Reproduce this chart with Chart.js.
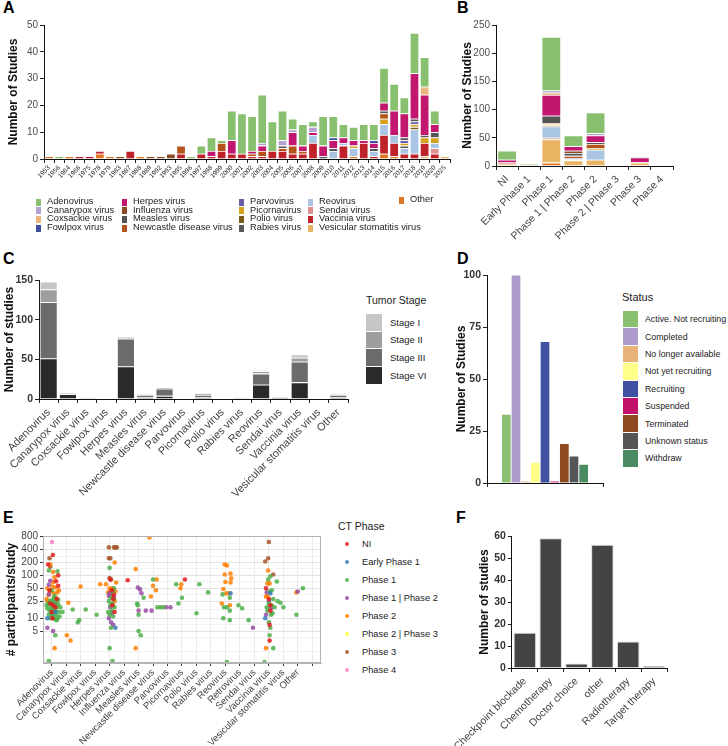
<!DOCTYPE html>
<html>
<head>
<meta charset="utf-8">
<script src="https://cdn.jsdelivr.net/npm/chart.js@4.4.1/dist/chart.umd.min.js"></script>
<style>
  body { margin: 0; background: #fff; width: 728px; height: 746px; overflow: hidden; position: relative;
         font-family: 'Liberation Sans', Arial, Helvetica, sans-serif; }
  .panel { position: absolute; }
  .letter { position: absolute; font-weight: bold; font-size: 16px; color: #000; line-height: 16px; }
  .lg { position: absolute; white-space: nowrap; color: #222; line-height: 1; }
  .key { position: absolute; }
</style>
</head>
<body>
<div class="letter" style="left:3px;top:0px">A</div>
<div class="letter" style="left:457px;top:0px">B</div>
<div class="letter" style="left:3px;top:251px">C</div>
<div class="letter" style="left:457px;top:251px">D</div>
<div class="letter" style="left:3px;top:510px">E</div>
<div class="letter" style="left:456px;top:510px">F</div>

<div class="panel" style="left:0;top:0;width:470px;height:200px"><canvas id="chartA"></canvas></div>
<div class="panel" style="left:458px;top:0;width:270px;height:240px"><canvas id="chartB"></canvas></div>
<div class="panel" style="left:0;top:255px;width:360px;height:245px"><canvas id="chartC"></canvas></div>
<div class="panel" style="left:452px;top:255px;width:158px;height:245px"><canvas id="chartD"></canvas></div>
<div class="panel" style="left:0;top:505px;width:335px;height:241px"><canvas id="chartE"></canvas></div>
<div class="panel" style="left:450px;top:505px;width:278px;height:241px"><canvas id="chartF"></canvas></div>

<div id="legendA"></div>
<div id="legendC"></div>
<div id="legendD"></div>
<div id="legendE"></div>

<script>
// ---------- data ----------
const virusNames = ['Adenovirus', 'Canarypox virus', 'Coxsackie virus', 'Fowlpox virus', 'Herpes virus',
    'Influenza virus', 'Measles virus', 'Newcastle disease virus', 'Parvovirus', 'Picornavirus', 'Polio virus',
    'Rabies virus', 'Reovirus', 'Sendai virus', 'Vaccinia virus', 'Vesicular stomatitis virus', 'Other'];
const virusColors = ['#88c070', '#b3a3d3', '#eab57e', '#3d4e9e', '#c1176f', '#8b4a22', '#555555', '#b4541b',
    '#6a5ba8', '#d6a21e', '#7c5c1c', '#5a5a5a', '#a9c5e3', '#e09090', '#c0222a', '#e8b463', '#e07522'];

// panel A: studies per year
const yearLabels = ['1953', '1956', '1964', '1966', '1975', '1978', '1979', '1983', '1987', '1988', '1989', '1992',
    '1993', '1995', '1996', '1997', '1998', '1999', '2000', '2001', '2002', '2003', '2004', '2005', '2006', '2007',
    '2008', '2009', '2010', '2011', '2012', '2013', '2014', '2015', '2016', '2017', '2018', '2019', '2020', '2025'];
const aAdenovirus = [0,1,0,0,0,0,0,0,0,0, 0,0,0,0,1,3,5,1,11,15, 13,18,11,11,4,8,2,11,8,5, 5,6,6,13,10,6,15,11,5,0];
const aCanarypox  = [0,0,0,0,0,0,0,0,0,0, 0,0,0,0,0,0,0,0,0,0, 0,1,0,2,1,0,2,0,0,0, 0,0,0,0,0,0,0,0,0,0];
const aCoxsackie  = [0,0,0,0,0,0,0,0,0,0, 0,0,0,0,0,0,0,0,0,0, 0,0,0,0,0,0,0,0,0,0, 0,0,0,0,0,0,0,3,0,0];
const aFowlpox    = [0,0,0,0,0,0,0,0,0,0, 0,0,0,0,0,0,0,0,0,0, 0,0,0,0,0,0,0,0,1,0, 0,0,1,0,0,0,0,0,0,0];
const aHerpes     = [0,0,0,0,0,0,0,0,0,0, 0,0,0,0,0,0,2,0,5,0, 1,2,0,0,5,2,1,4,3,2, 2,1,2,3,9,9,17,15,3,0];
const aInfluenza  = [0,0,0,0,0,0,0,1,0,0, 1,1,2,0,0,0,0,0,0,0, 0,0,0,0,0,0,0,0,0,0, 0,0,0,0,0,0,0,0,0,0];
const aMeasles    = [0,0,0,0,0,0,0,0,0,0, 0,0,0,0,0,0,0,0,0,0, 0,0,0,1,0,0,0,1,1,0, 0,0,1,1,0,1,1,1,2,0];
const aNewcastle  = [0,0,0,0,0,0,0,0,0,0, 0,0,0,3,0,0,0,3,0,0, 1,2,0,1,3,1,0,0,0,0, 0,0,0,2,0,0,0,0,0,0];
const aParvovirus = [0,0,0,0,0,0,0,0,0,0, 0,0,0,0,0,0,0,0,0,0, 0,0,0,0,0,0,0,0,0,0, 0,0,0,0,0,1,1,0,0,0];
const aPicorna    = [0,0,0,0,0,0,0,0,0,0, 0,0,0,0,0,0,0,0,0,0, 0,0,0,0,0,0,0,0,0,0, 1,0,0,2,0,1,1,2,2,0];
const aPolio      = [0,0,0,0,0,0,0,0,0,0, 0,0,0,0,0,0,0,0,0,0, 0,0,0,0,0,0,0,0,0,0, 0,0,0,0,0,0,1,0,0,0];
const aRabies     = [0,0,0,0,0,0,0,0,0,0, 0,0,0,0,0,0,0,0,0,0, 0,0,0,0,0,0,0,0,0,0, 0,0,0,0,0,1,0,0,0,0];
const aReovirus   = [0,0,0,0,0,0,0,0,0,0, 0,0,0,0,0,0,0,0,0,0, 0,0,0,0,0,0,3,0,3,1, 3,0,2,4,3,2,9,0,2,0];
const aSendai     = [0,0,0,0,0,0,0,0,0,0, 0,0,0,0,0,0,0,0,0,0, 0,0,0,0,0,0,0,0,0,0, 0,0,0,0,0,0,0,0,2,0];
const aVaccinia   = [0,0,0,1,1,1,0,0,3,0, 0,0,0,2,0,2,1,3,2,2, 1,1,3,3,2,2,6,0,0,5, 0,6,1,7,5,2,2,5,2,0];
const aVesicular  = [0,0,0,0,0,0,0,0,0,0, 0,0,0,0,0,0,0,0,0,0, 0,0,0,0,0,0,0,0,0,0, 0,0,0,0,0,0,0,1,0,1];
const aOther      = [1,0,1,0,0,2,1,0,0,1, 0,0,0,0,0,0,0,0,0,0, 0,0,0,0,0,0,0,0,0,0, 1,0,0,2,1,0,0,0,0,0];

// panel B: studies per trial phase
const phaseLabels = ['NI', 'Early Phase 1', 'Phase 1', 'Phase 1 | Phase 2', 'Phase 2', 'Phase 2 | Phase 3', 'Phase 3', 'Phase 4'];
const bAdenovirus = [16, 2, 95, 19, 37, 0, 2, 1];
const bCanarypox  = [0, 0, 4, 0, 4, 0, 0, 0];
const bCoxsackie  = [0, 0, 4, 0, 0, 0, 0, 0];
const bFowlpox    = [0, 0, 0, 0, 0, 0, 0, 0];
const bHerpes     = [5, 0, 37, 8, 12, 0, 8, 0];
const bInfluenza  = [0, 0, 0, 4, 0, 0, 0, 0];
const bMeasles    = [0, 2, 13, 5, 3, 0, 0, 1];
const bNewcastle  = [0, 0, 2, 4, 8, 0, 0, 0];
const bParvovirus = [0, 0, 0, 2, 0, 0, 0, 0];
const bPicorna    = [0, 0, 2, 0, 2, 0, 0, 0];
const bPolio      = [0, 0, 2, 0, 0, 0, 0, 0];
const bRabies     = [0, 0, 0, 0, 0, 0, 0, 0];
const bReovirus   = [0, 0, 20, 2, 18, 0, 0, 0];
const bSendai     = [0, 0, 3, 0, 0, 0, 0, 0];
const bVaccinia   = [2, 0, 0, 0, 0, 0, 1, 0];
const bVesicular  = [4, 0, 41, 10, 11, 0, 6, 0];
const bOther      = [0, 0, 6, 0, 0, 0, 0, 0];

// panel C: tumor stage per virus
const cVirusLabels = ['Adenovirus', 'Canarypox virus', 'Coxsackie virus', 'Fowlpox virus', 'Herpes virus',
    'Measles virus', 'Newcastle disease virus', 'Parvovirus', 'Picornavirus', 'Polio virus', 'Rabies virus',
    'Reovirus', 'Sendai virus', 'Vaccinia virus', 'Vesicular stomatitis virus', 'Other'];
const stageNames = ['Stage I', 'Stage II', 'Stage III', 'Stage VI'];
const stageColors = ['#c6c6c6', '#9e9e9e', '#6b6b6b', '#2a2a2a'];
const cStageI   = [10, 0, 0, 0, 1, 0, 0, 0, 1, 0, 0, 1, 0, 4, 0, 1];
const cStageII  = [16, 1, 1, 0, 1, 1, 2, 0, 2, 0, 1, 3, 1, 5, 0, 1];
const cStageIII = [71, 1, 1, 0, 35, 3, 9, 0, 3, 0, 1, 14, 0, 26, 0, 3];
const cStageVI  = [51, 6, 0, 0, 41, 2, 4, 0, 2, 0, 0, 18, 2, 21, 0, 2];

// panel D: trial status
const statusNames = ['Active. Not recruiting', 'Completed', 'No longer available', 'Not yet recruiting',
    'Recruiting', 'Suspended', 'Terminated', 'Unknown status', 'Withdraw'];
const statusColors = ['#88c070', '#ad9bcb', '#e8b37b', '#ffff8a', '#3f51a0', '#c1106a', '#8e4a1e', '#555555', '#4b8b62'];
const statusCounts = [33, 100, 1, 10, 68, 1, 19, 13, 9];
const statusTicks = [0, 25, 50, 75, 100];

// panel E: participants per study, points are [virus index + jitter, participants]
const eVirusLabels = ['Adenovirus', 'Canarypox virus', 'Coxsackie virus', 'Fowlpox virus', 'Herpes virus',
    'Influenza virus', 'Measles virus', 'Newcastle disease virus', 'Parvovirus', 'Picornavirus', 'Polio virus',
    'Rabies virus', 'Reovirus', 'Retrovirus', 'Sendai virus', 'Vaccinia virus', 'Vesicular stomatitis virus', 'Other', ''];
const eMajorTicks = [5, 10, 25, 50, 100, 200, 400, 800];
const eMinorTicks = [1.7, 3.5, 7.1, 15.8, 35, 71, 141, 283, 566];
const ctPhaseNames = ['NI', 'Early Phase 1', 'Phase 1', 'Phase 1 | Phase 2', 'Phase 2', 'Phase 2 | Phase 3', 'Phase 3', 'Phase 4'];
const ctPhaseColors = ['#e41a1c', '#377eb8', '#4daf4a', '#984ea3', '#ff7f00', '#ffff33', '#a65628', '#f781bf'];
const eNI = [[0.08,300],[-0.25,180],[0.45,100],[0.3,73],[0.45,57],[0.35,28],[0.1,20],[-0.1,22],[0.0,14],[0.05,10],
    [0.25,18],[-0.15,45],[4.05,80],[4.15,45],[4.3,35],[4.25,28],[4.35,14],[4.2,20],[5.25,77],[9.2,80],
    [14.8,50],[15.0,28],[15.1,20],[15.05,7],[15.05,3],[15.1,15]];
const eEarly1 = [[-0.3,10],[0.25,14],[4.4,6],[12.35,38],[14.75,10],[15.1,38]];
const ePhase1 = [[-0.2,130],[0.4,125],[0.0,45],[0.2,33],[-0.1,26],[0.3,25],[0.05,23],[-0.25,22],[0.45,21],[0.15,20],
    [-0.05,19],[0.35,18],[-0.3,17],[0.1,16],[0.25,15],[-0.15,15],[0.5,14],[0.0,13],[0.3,12],[-0.2,12],[0.1,11],
    [0.4,10],[-0.1,10],[0.2,9.5],[0.35,9],[0.75,14],[0.25,4],[-0.2,1],[0.6,18],[0.55,11],[-0.35,20],[0.15,30],
    [0.45,27],[-0.05,16],[0.2,13],[0.05,25],
    [1.45,16],[2.35,16],[1.8,8],[1.9,9],[3.1,12],
    [4.0,150],[4.3,50],[4.25,40],[4.1,30],[4.3,28],[3.95,25],[4.2,22],[4.05,20],[4.35,18],[4.15,15],[3.9,14],
    [4.0,12],[4.25,11],[4.1,6],[4.0,2],[4.2,1],
    [6.35,30],[5.9,22],[5.95,20],[6.0,12],[6.0,5],[6.15,4],[7.0,80],[7.3,18],[7.5,18],[7.7,18],
    [8.6,62],[9.0,30],[8.75,22],[10.2,62],[10.0,13],[10.8,40],
    [11.8,36],[12.3,30],[11.9,18],[12.1,18],[12.3,15],[11.85,10],[12.3,9],[12.1,0.95],
    [12.9,20],[13.15,17],[13.6,9],
    [15.1,95],[14.95,80],[15.55,72],[15.2,45],[15.05,42],[15.3,28],[15.6,25],[15.0,22],[15.2,20],[15.4,18],
    [14.9,15],[15.25,13],[15.0,8],[15.1,6],[15.05,4],[15.3,2],[14.7,0.95],[15.15,12],[14.85,18],
    [16.0,18],[15.8,23],[17.35,50],[16.9,12]];
const ePhase12 = [[-0.1,75],[-0.2,60],[-0.2,36],[-0.3,6],[0.1,5],[0.3,22],[0.0,12],
    [4.0,38],[4.2,33],[3.95,33],[4.3,30],[4.05,18],[3.95,10],[4.1,8],[4.25,7],[4.15,13],
    [5.95,52],[6.1,47],[6.2,38],[6.0,15],[6.5,15],[6.9,15],[7.9,18],[8.2,18],[13.9,6],
    [14.85,40],[15.0,25],[15.15,17],[14.8,12],[17.0,42]];
const ePhase2 = [[-0.1,180],[0.2,90],[0.1,70],[0.05,55],[0.25,52],[-0.3,50],[0.5,45],[-0.1,42],[0.3,30],[-0.35,28],
    [0.15,38],[-0.2,35],[0.4,40],[0.2,2.0],[-0.3,25],[0.1,120],
    [1.15,23],[1.05,4],[1.3,3],[2.0,55],[3.35,62],
    [4.35,200],[4.45,68],[3.75,62],[4.0,50],[4.2,50],[4.3,48],[4.1,45],[4.4,42],[3.9,40],[4.15,35],[4.35,25],
    [5.8,140],[5.8,2],[6.75,770],[7.0,57],[7.2,45],[6.85,32],[7.25,80],[8.95,62],[8.9,50],
    [11.95,180],[12.1,170],[11.95,105],[12.35,110],[12.4,85],[12.0,70],[12.35,68],[11.85,48],[12.05,38],
    [12.25,38],[11.75,22],[12.3,20],
    [14.95,130],[14.9,65],[15.05,65],[14.8,32],[14.9,32],[14.8,2],[16.9,40]];
const ePhase23 = [];
const ePhase3 = [[-0.15,250],[-0.1,160],[3.95,450],[4.3,450],[4.4,450],[4.5,450],[3.95,250],[4.05,250],[4.0,86],
    [4.1,80],[15.0,600],[14.95,250],[14.75,210],[15.3,105]];
const ePhase4 = [[0.02,600]];

// panel F: comparator arm
const armLabels = ['Checkpoint blockade', 'Chemotherapy', 'Doctor choice', 'other', 'Radiotherapy', 'Target therapy'];
const armCounts = [16, 59, 2, 56, 12, 1];

// ---------- shared settings ----------
Chart.defaults.font.family = "'Liberation Sans', Arial, Helvetica, sans-serif";
Chart.defaults.color = '#4d4d4d';
Chart.defaults.animation = false;
Chart.defaults.plugins.legend.display = false;
Chart.defaults.plugins.tooltip.enabled = false;
Chart.defaults.maintainAspectRatio = false;

// each axis gets its own copy of these
function tickMarks() { return { display: true, drawOnChartArea: false, drawTicks: true, tickLength: 4, color: '#222' }; }
function axisLine() { return { display: true, color: '#111', width: 1 }; }

function stackedSets(names, colors, arrays) {
    const sets = names.map(function (n, i) {
        return { label: n, data: arrays[i], backgroundColor: colors[i],
                 borderColor: 'rgba(255,255,255,0.7)', borderWidth: 0.8 };
    });
    return sets.reverse();  // first name ends up on top of the stack
}

// ---------- D (built first) ----------
// one bar per status on a linear x axis, so the axis line can run past the bars
new Chart(document.getElementById('chartD'), {
    type: 'bar',
    data: {
        datasets: [{
            label: 'Status',
            data: statusCounts.map(function (v, i) { return { x: i, y: v }; }),
            backgroundColor: statusColors,
            borderColor: 'rgba(255,255,255,0.8)',
            borderWidth: 0.8
        }]
    },
    options: {
        layout: { padding: { top: 20, right: 7, left: 0, bottom: 0 } },
        datasets: { bar: { barPercentage: 1, categoryPercentage: 1 } },
        scales: {
            x: { type: 'linear', min: -2, max: 10, offset: false, grid: tickMarks(), border: axisLine(),
                 afterBuildTicks: function (axis) { axis.ticks = [{ value: 4 }]; },
                 ticks: { callback: function () { return ''; } },
                 afterFit: function (s) { s.height = 17; } },
            y: { type: 'linear', min: 0, max: 100, grid: tickMarks(), border: axisLine(),
                 afterBuildTicks: function (axis) { axis.ticks = statusTicks.map(function (v) { return { value: v }; }); },
                 ticks: { autoSkip: false, font: { size: 10.5, weight: 'bold' }, color: '#333', padding: 2,
                          callback: function (v) { return String(v); } },
                 title: { display: true, text: 'Number of Studies', font: { size: 12, weight: 'bold' }, color: '#111', padding: { top: 2 } },
                 afterFit: function (s) { s.width = 35; } }
        }
    }
});

// ---------- A ----------
new Chart(document.getElementById('chartA'), {
    type: 'bar',
    data: {
        labels: yearLabels,
        datasets: stackedSets(virusNames, virusColors, [aAdenovirus, aCanarypox, aCoxsackie, aFowlpox, aHerpes,
            aInfluenza, aMeasles, aNewcastle, aParvovirus, aPicorna, aPolio, aRabies, aReovirus, aSendai,
            aVaccinia, aVesicular, aOther])
    },
    options: {
        layout: { padding: { top: 25, right: 20, left: 0, bottom: 0 } },
        datasets: { bar: { barPercentage: 0.92, categoryPercentage: 1 } },
        scales: {
            x: { stacked: true, grid: tickMarks(), border: axisLine(),
                 ticks: { autoSkip: false, minRotation: 45, maxRotation: 45, font: { size: 6.5 }, color: '#222', padding: 1 },
                 afterFit: function (s) { s.height = 41; } },
            y: { stacked: true, min: 0, max: 50, grid: tickMarks(), border: axisLine(),
                 ticks: { stepSize: 10, autoSkip: false, font: { size: 10 }, padding: 2 },
                 title: { display: true, text: 'Number of Studies', font: { size: 12, weight: 'bold' }, color: '#111', padding: { top: 6 } },
                 afterFit: function (s) { s.width = 44; } }
        }
    }
});

// ---------- B ----------
new Chart(document.getElementById('chartB'), {
    type: 'bar',
    data: {
        labels: phaseLabels,
        datasets: stackedSets(virusNames, virusColors, [bAdenovirus, bCanarypox, bCoxsackie, bFowlpox, bHerpes,
            bInfluenza, bMeasles, bNewcastle, bParvovirus, bPicorna, bPolio, bRabies, bReovirus, bSendai,
            bVaccinia, bVesicular, bOther])
    },
    options: {
        layout: { padding: { top: 25, right: 55, left: 0, bottom: 0 } },
        datasets: { bar: { barPercentage: 0.88, categoryPercentage: 1 } },
        scales: {
            x: { stacked: true, grid: tickMarks(), border: axisLine(),
                 ticks: { autoSkip: false, minRotation: 45, maxRotation: 45, font: { size: 10.5 }, color: '#444' },
                 afterFit: function (s) { s.height = 74; } },
            y: { stacked: true, min: 0, max: 250, grid: tickMarks(), border: axisLine(),
                 ticks: { stepSize: 50, autoSkip: false, font: { size: 10 }, padding: 2 },
                 title: { display: true, text: 'Number of Studies', font: { size: 12, weight: 'bold' }, color: '#111', padding: { top: 2 } },
                 afterFit: function (s) { s.width = 38; } }
        }
    }
});

// ---------- C ----------
new Chart(document.getElementById('chartC'), {
    type: 'bar',
    data: {
        labels: cVirusLabels,
        datasets: stackedSets(stageNames, stageColors, [cStageI, cStageII, cStageIII, cStageVI])
    },
    options: {
        layout: { padding: { top: 25, right: 12, left: 0, bottom: 0 } },
        datasets: { bar: { barPercentage: 0.92, categoryPercentage: 1 } },
        scales: {
            x: { stacked: true, grid: tickMarks(), border: axisLine(),
                 ticks: { autoSkip: false, minRotation: 45, maxRotation: 45, font: { size: 11 }, color: '#444' },
                 afterFit: function (s) { s.height = 101; } },
            y: { stacked: true, min: 0, max: 150, grid: tickMarks(), border: axisLine(),
                 ticks: { stepSize: 50, autoSkip: false, font: { size: 10.5, weight: 'bold' }, color: '#333', padding: 2 },
                 title: { display: true, text: 'Number of studies', font: { size: 12, weight: 'bold' }, color: '#111', padding: { top: 2 } },
                 afterFit: function (s) { s.width = 39; } }
        }
    }
});

// ---------- E ----------
const frame = {
    id: 'frame',
    afterDraw: function (chart) {
        const a = chart.chartArea, c = chart.ctx;
        c.save();
        c.strokeStyle = '#b3b3b3';
        c.lineWidth = 1;
        c.strokeRect(a.left + 0.5, a.top + 0.5, a.right - a.left - 1, a.bottom - a.top - 1);
        c.restore();
    }
};
const ePoints = [eNI, eEarly1, ePhase1, ePhase12, ePhase2, ePhase23, ePhase3, ePhase4];
function rgba(hex, a) {
    const n = parseInt(hex.slice(1), 16);
    return 'rgba(' + (n >> 16) + ',' + ((n >> 8) & 255) + ',' + (n & 255) + ',' + a + ')';
}
new Chart(document.getElementById('chartE'), {
    type: 'scatter',
    data: {
        datasets: ctPhaseNames.map(function (n, i) {
            return { label: n, backgroundColor: rgba(ctPhaseColors[i], 0.85), pointRadius: 2.3, pointBorderWidth: 0,
                     data: ePoints[i].map(function (p) { return { x: p[0], y: p[1] }; }) };
        })
    },
    options: {
        layout: { padding: { top: 31, right: 14, left: 0, bottom: 0 } },
        scales: {
            x: { type: 'linear', min: -0.6, max: 18.6,
                 afterBuildTicks: function (axis) { axis.ticks = eVirusLabels.map(function (l, i) { return { value: i }; }); },
                 grid: { color: '#ebebeb', tickLength: 3, tickColor: '#333' }, border: { color: '#b3b3b3' },
                 ticks: { autoSkip: false, minRotation: 45, maxRotation: 45, font: { size: 9.5 }, color: '#444', padding: 1,
                          callback: function (v) { return eVirusLabels[v]; } },
                 afterFit: function (s) { s.height = 83; } },
            y: { type: 'logarithmic', min: 0.9, max: 830,
                 afterBuildTicks: function (axis) {
                     axis.ticks = eMajorTicks.concat(eMinorTicks).sort(function (a, b) { return a - b; })
                         .map(function (v) { return { value: v }; });
                 },
                 grid: { color: function (c) { return eMajorTicks.includes(c.tick.value) ? '#e3e3e3' : '#f2f2f2'; },
                         tickColor: function (c) { return eMajorTicks.includes(c.tick.value) ? '#333' : 'rgba(0,0,0,0)'; },
                         tickLength: 3 },
                 border: { color: '#b3b3b3' },
                 ticks: { autoSkip: false, font: { size: 10 }, color: '#444', padding: 2,
                          callback: function (v) { return eMajorTicks.includes(v) ? String(v) : ''; } },
                 title: { display: true, text: '# participants/study', font: { size: 12, weight: 'bold' }, color: '#111', padding: { top: 4 } },
                 afterFit: function (s) { s.width = 43; } }
        }
    },
    plugins: [frame]
});

// ---------- F ----------
new Chart(document.getElementById('chartF'), {
    type: 'bar',
    data: {
        labels: armLabels,
        datasets: [{ label: 'Studies', data: armCounts, backgroundColor: '#444444', borderColor: '#d9d9d9', borderWidth: 1 }]
    },
    options: {
        layout: { padding: { top: 31, right: 61, left: 0, bottom: 0 } },
        datasets: { bar: { barPercentage: 0.87, categoryPercentage: 1 } },
        scales: {
            x: { grid: tickMarks(), border: axisLine(),
                 ticks: { autoSkip: false, minRotation: 45, maxRotation: 45, font: { size: 10.5 }, color: '#444' },
                 afterFit: function (s) { s.height = 78; } },
            y: { min: 0, max: 60, grid: tickMarks(), border: axisLine(),
                 ticks: { stepSize: 10, autoSkip: false, font: { size: 10.5, weight: 'bold' }, color: '#333', padding: 2 },
                 title: { display: true, text: 'Number of studies', font: { size: 12, weight: 'bold' }, color: '#111', padding: { top: 1 } },
                 afterFit: function (s) { s.width = 35; } }
        }
    }
});

// ---------- legends ----------
function addText(parent, text, x, y, size) {
    const d = document.createElement('div');
    d.className = 'lg';
    d.textContent = text;
    d.style.left = x + 'px';
    d.style.top = (y - size / 2) + 'px';
    d.style.fontSize = size + 'px';
    parent.appendChild(d);
}
function addKey(parent, x, y, w, h, color, round) {
    const d = document.createElement('div');
    d.className = 'key';
    d.style.left = x + 'px';
    d.style.top = y + 'px';
    d.style.width = w + 'px';
    d.style.height = h + 'px';
    d.style.background = color;
    if (round) d.style.borderRadius = '50%';
    parent.appendChild(d);
}

const legA = document.getElementById('legendA');
const aColX = [36, 122, 239, 308];
const aRowY = [202, 210.7, 219.4, 228];
for (let i = 0; i < 16; i++) {
    const col = Math.floor(i / 4), row = i % 4;
    addKey(legA, aColX[col], aRowY[row] - 3.5, 5, 7, virusColors[i]);
    addText(legA, virusNames[i], aColX[col] + 11, aRowY[row] - 0.5, 9.3);
}
addKey(legA, 399, 196.5, 5, 7, virusColors[16]);
addText(legA, virusNames[16], 410, 199.5, 9.3);

const legC = document.getElementById('legendC');
addText(legC, 'Tumor Stage', 366, 300, 10.5);
for (let i = 0; i < 4; i++) {
    addKey(legC, 366, 314 + i * 17.7, 16, 16.5, stageColors[i]);
    addText(legC, stageNames[i], 390, 322.5 + i * 17.7, 9.5);
}

const legD = document.getElementById('legendD');
addText(legD, 'Status', 622, 297, 11);
for (let i = 0; i < statusNames.length; i++) {
    addKey(legD, 623, 311 + i * 17.4, 15, 16.4, statusColors[i]);
    addText(legD, statusNames[i], 645, 319.5 + i * 17.4, 8.8);
}

const legE = document.getElementById('legendE');
addText(legE, 'CT Phase', 338, 526, 10.5);
for (let i = 0; i < ctPhaseNames.length; i++) {
    addKey(legE, 344.7, 541.7 + i * 18, 4.6, 4.6, rgba(ctPhaseColors[i], 0.85), true);
    addText(legE, ctPhaseNames[i], 362, 544.5 + i * 18, 9.3);
}
</script>
</body>
</html>
